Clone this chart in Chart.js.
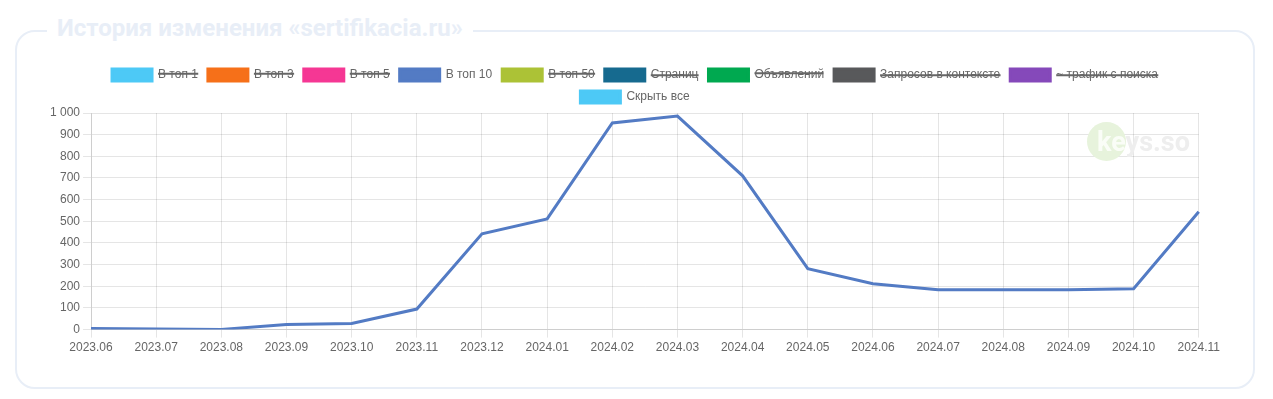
<!DOCTYPE html>
<html>
<head>
<meta charset="utf-8">
<script src="https://cdn.jsdelivr.net/npm/chart.js@4"></script>
<style>
  html, body { margin: 0; padding: 0; background: #fff; width: 1273px; height: 399px; overflow: hidden; }
  #box { position: absolute; left: 15px; top: 30px; width: 1240px; height: 359px; box-sizing: border-box;
         border: 2px solid #e8eef7; border-radius: 20px; }
  #title { position: absolute; left: 47px; top: 13px; padding: 0 10px; background: #fff;
           font-family: Roboto, 'Noto Sans', sans-serif; font-weight: 700; font-size: 24px; color: #e8eef7;
           line-height: 30px; white-space: nowrap; }
  #wrap { position: absolute; left: 36px; top: 59px; width: 1187px; height: 299px; }
  #wm { position: absolute; left: 1087px; top: 122px; pointer-events: none; z-index: 2; }
  #wm .c { position: absolute; left: 0; top: 0; width: 39px; height: 39px; border-radius: 50%; background: #e7f3dc; }
  #wm .t { position: absolute; left: 10px; top: 2px; font-family: Roboto, sans-serif; font-weight: 700; font-size: 27px;
           color: #eeeeee; line-height: 36px; white-space: nowrap; }
  #wm .t b { color: #fafdf7; font-weight: 700; }
</style>
</head>
<body>
<div id="box"></div>
<div id="title">История изменения «sertifikacia.ru»</div>
<div id="wrap"><canvas id="chart"></canvas></div>
<div id="wm"><div class="c"></div><div class="t"><b>ke</b>ys.so</div></div>
<script>
const months = ["2023.06","2023.07","2023.08","2023.09","2023.10","2023.11","2023.12","2024.01","2024.02","2024.03","2024.04","2024.05","2024.06","2024.07","2024.08","2024.09","2024.10","2024.11"];
const top10 = [5, 3, 1, 23, 28, 95, 442, 511, 954, 986, 710, 281, 212, 184, 184, 184, 189, 544];
const seriesNames = ["В топ 1","В топ 3","В топ 5","В топ 10","В топ 50","Страниц","Объявлений","Запросов в контексте","~ трафик с поиска","Скрыть все"];
const seriesColors = ["#4dc9f6","#f67019","#f53794","#537bc4","#acc236","#166a8f","#00a950","#58595b","#8549ba","#4dc9f6"];
const hiddenFlags = [true,true,true,false,true,true,true,true,true,false];
const yTicks = [0,100,200,300,400,500,600,700,800,900,1000];

Chart.defaults.font.family = "Arial, 'Liberation Sans', sans-serif";
Chart.defaults.font.size = 12;
Chart.defaults.color = '#666';

const datasets = seriesNames.map((name, i) => ({
  label: name,
  data: name === "В топ 10" ? top10 : [],
  borderColor: seriesColors[i],
  backgroundColor: seriesColors[i],
  borderWidth: 3,
  pointRadius: 0,
  pointHoverRadius: 0,
  tension: 0,
  fill: false,
  hidden: hiddenFlags[i]
}));

new Chart(document.getElementById('chart'), {
  type: 'line',
  data: { labels: months, datasets },
  options: {
    responsive: true,
    maintainAspectRatio: false,
    animation: false,
    layout: { padding: { left: 11, right: 0, top: 0, bottom: 0 } },
    plugins: {
      legend: { display: true, position: 'top', labels: { boxWidth: 40 } },
      tooltip: { enabled: false }
    },
    scales: {
      x: { grid: { color: 'rgba(0,0,0,0.1)' }, ticks: { maxRotation: 0, autoSkip: false } },
      y: {
        min: 0, max: 1000,
        afterBuildTicks: (s) => { s.ticks = yTicks.map(v => ({ value: v })); },
        ticks: { callback: (v) => String(v).replace(/\B(?=(\d{3})+(?!\d))/g, ' ') }
      }
    }
  }
});
</script>
</body>
</html>
